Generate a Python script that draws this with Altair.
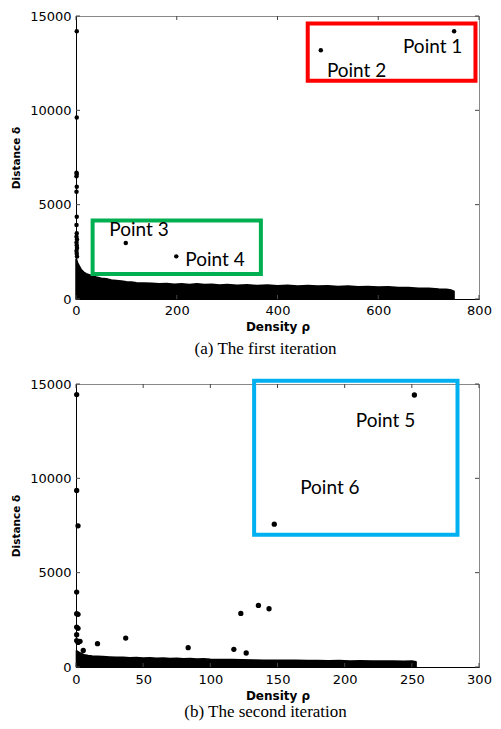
import altair as alt
import pandas as pd

# ---------------- Panel (a): first iteration ----------------
a_pts_x = [1.5, 1.5, 1, 1.5, 1, 1.5, 1, 1.5, 1, 1.5, 1, 2, 1, 1.5, 2, 1, 1.5, 2,
           750.6, 486, 98.8, 199]
a_pts_y = [14190, 9620, 6690, 6620, 6510, 5950, 5680, 4360, 3920, 3480, 3300, 3150,
           3000, 2850, 2700, 2550, 2400, 2250,
           14190, 13185, 2965, 2260]
a_blob_x = [0.5, 3, 6, 10, 15, 20,
            30, 40, 50, 60, 70, 80, 90, 100, 110, 120,
            135, 150, 165, 180, 195, 210, 225, 240, 255, 270, 285, 300,
            320, 340, 360, 380, 400, 420, 440, 460, 480, 500, 520, 540, 560, 580, 600,
            620, 640, 660, 680, 700, 720,
            735, 745, 750]
a_blob_top = [2100, 1900, 1750, 1550, 1420, 1330,
              1230, 1150, 1090, 1060, 1000, 970, 940, 900, 890, 850,
              840, 820, 790, 810, 770, 790, 760, 800, 750, 770, 730, 760,
              720, 740, 700, 730, 690, 720, 680, 700, 670, 690, 650, 670, 640, 650, 620,
              630, 590, 600, 560, 560, 520,
              500, 460, 400]
a_box_x1 = [460, 33]
a_box_x2 = [793, 367]
a_box_y1 = [11570, 1324]
a_box_y2 = [14600, 4165]
a_box_color = ["#FF0000", "#00B050"]
a_lab_text = ["Point 1", "Point 2", "Point 3", "Point 4"]
a_lab_x = [708, 557, 125, 276]
a_lab_y = [13350, 12110, 3640, 2050]
a_xticks = [0, 200, 400, 600, 800]
a_yticks = [0, 5000, 10000, 15000]

# ---------------- Panel (b): second iteration ----------------
b_pts_x = [0.5, 0.5, 1.5, 0.5, 0.5, 1.5, 0.5, 1.5, 0.5, 0.5, 1.5, 3, 5.4,
           16, 37, 83.5, 117.5, 126.7, 122.7, 135.8, 143.7, 147.6, 251.9]
b_pts_y = [14440, 9355, 7484, 3970, 2822, 2790, 2118, 2050, 1710, 1400, 1300, 1360, 880,
           1235, 1535, 1024, 935, 741, 2840, 3262, 3087, 7572, 14418]
b_blob_x = [0.5, 2, 4, 6, 9, 12, 16, 20, 25, 30,
            35, 40, 45, 50, 55, 60, 65, 70, 75, 80,
            85, 90, 95, 100, 108, 116, 124, 132, 140, 148,
            156, 164, 172, 180, 188, 196, 204, 212, 220, 228,
            236, 244, 250, 253]
b_blob_top = [850, 780, 700, 640, 600, 570, 560, 540, 520, 500,
              510, 480, 490, 470, 480, 450, 460, 440, 450, 430,
              440, 410, 420, 400, 390, 380, 370, 360, 350, 350,
              340, 340, 330, 330, 320, 330, 310, 320, 310, 300,
              310, 290, 310, 260]
b_box_x1 = [132.6]
b_box_x2 = [284]
b_box_y1 = [7005]
b_box_y2 = [15175]
b_box_color = ["#00B0F0"]
b_lab_text = ["Point 5", "Point 6"]
b_lab_x = [230.4, 189]
b_lab_y = [13040, 9494]
b_xticks = [0, 50, 100, 150, 200, 250, 300]
b_yticks = [0, 5000, 10000, 15000]

W, H = 403, 283
TICK = 4


def panel(xmax, pts_x, pts_y, pt_size, blob_x, blob_top, bx1, bx2, by1, by2, bcol,
          lt, lx, ly, xticks, yticks, caption, cap_offset, xlab_pad, xtitle_pad, h):
    xs = alt.Scale(domain=[0, xmax], nice=False, zero=False)
    ys = alt.Scale(domain=[0, 15000], nice=False, zero=False)
    xaxis = alt.Axis(values=xticks, format="d", title="Density ρ", ticks=False,
                     grid=False, labelFlush=False, labelPadding=xlab_pad,
                     titlePadding=xtitle_pad)
    yaxis = alt.Axis(values=yticks, format="d", title="Distance δ", ticks=False,
                     grid=False, labelFlush=False, labelPadding=5, titlePadding=8)
    X = lambda f="x": alt.X(f"{f}:Q", scale=xs, axis=xaxis)
    Y = lambda f="y": alt.Y(f"{f}:Q", scale=ys, axis=yaxis)

    blob = alt.Chart(pd.DataFrame({"x": blob_x, "y": blob_top})).mark_area(
        color="black", stroke="black", strokeWidth=2, strokeJoin="round", opacity=1
    ).encode(x=X(), y=Y(), y2=alt.datum(0))

    pts = alt.Chart(pd.DataFrame({"x": pts_x, "y": pts_y})).mark_circle(
        color="black", size=pt_size, opacity=1
    ).encode(x=X(), y=Y())

    boxes = alt.Chart(pd.DataFrame({"x": bx1, "x2": bx2, "y": by1, "y2": by2,
                                    "c": bcol})).mark_rect(
        filled=False, strokeWidth=4
    ).encode(x=X(), x2="x2:Q", y=Y(), y2="y2:Q",
             stroke=alt.Stroke("c:N", scale=None))

    labels = alt.Chart(pd.DataFrame({"x": lx, "y": ly, "t": lt})).mark_text(
        font="Lato", fontSize=19, color="black", align="center", baseline="middle"
    ).encode(x=X(), y=Y(), text="t:N")

    xt = pd.DataFrame({"x": xticks})
    yt = pd.DataFrame({"y": yticks})
    tick_style = dict(color="#444", strokeWidth=1)
    t_bottom = alt.Chart(xt).mark_rule(**tick_style).encode(
        x=X(), y=alt.value(h), y2=alt.value(h - TICK))
    t_top = alt.Chart(xt).mark_rule(**tick_style).encode(
        x=X(), y=alt.value(0), y2=alt.value(TICK))
    t_left = alt.Chart(yt).mark_rule(**tick_style).encode(
        y=Y(), x=alt.value(0), x2=alt.value(TICK))
    t_right = alt.Chart(yt).mark_rule(**tick_style).encode(
        y=Y(), x=alt.value(W), x2=alt.value(W - TICK))

    return alt.layer(blob, pts, boxes, labels, t_bottom, t_top, t_left, t_right).properties(
        width=W, height=h,
        title=alt.TitleParams(caption, orient="bottom", font="Liberation Serif",
                              fontSize=17, fontWeight="normal", color="black",
                              offset=cap_offset, dx=-12, anchor="middle"),
    )


top = panel(800, a_pts_x, a_pts_y, 20, a_blob_x, a_blob_top, a_box_x1, a_box_x2,
            a_box_y1, a_box_y2, a_box_color, a_lab_text, a_lab_x, a_lab_y,
            a_xticks, a_yticks, "(a) The first iteration", 9, 5, 4, H)
bottom = panel(300, b_pts_x, b_pts_y, 28, b_blob_x, b_blob_top, b_box_x1, b_box_x2,
               b_box_y1, b_box_y2, b_box_color, b_lab_text, b_lab_x, b_lab_y,
               b_xticks, b_yticks, "(b) The second iteration", 3, 6, 4, H)

chart = alt.vconcat(top, bottom, spacing=19).resolve_scale(
    x="independent", y="independent"
).properties(
    padding={"left": 3, "top": 1, "right": 0, "bottom": 0},
    background="white",
).configure_view(
    stroke="#888", strokeWidth=1
).configure_axis(
    domainColor="black", domainWidth=1,
    labelFont="DejaVu Sans", labelFontSize=13, labelColor="black",
    titleFont="DejaVu Sans", titleFontSize=12, titleFontWeight="bold", titleColor="black",
).configure_axisY(titleFontSize=10.5)

chart.save("out.html", embed_options={"renderer": "svg", "actions": False})
